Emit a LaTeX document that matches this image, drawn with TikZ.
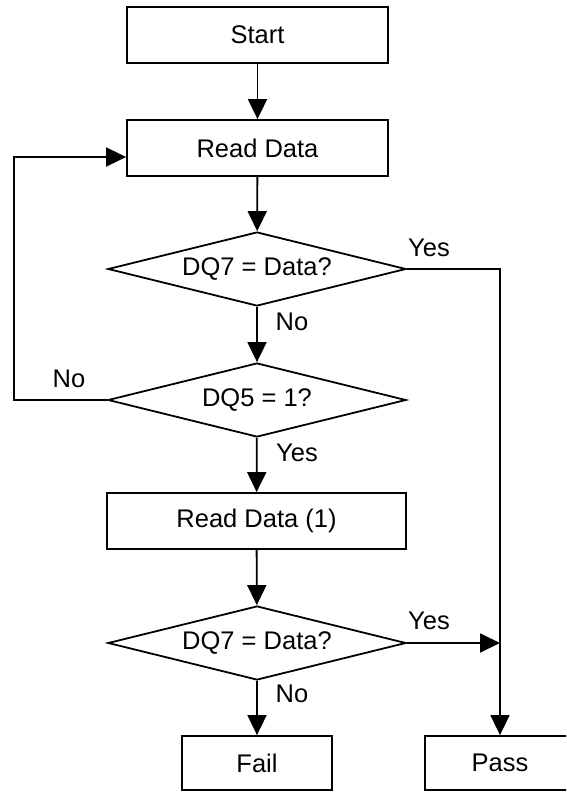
\documentclass[tikz,border=0pt]{standalone}
\usepackage{fontspec}
\setmainfont{Liberation Sans}
\usetikzlibrary{shapes.geometric,arrows.meta}
\begin{document}
\begin{tikzpicture}[x=1pt,y=-1pt,line width=1.8pt,
  txt/.style={font=\fontsize{25.5}{30}\selectfont},
  box/.style={draw,rectangle,inner sep=0pt,txt},
  dec/.style={draw,diamond,aspect=4,minimum width=298pt,minimum height=74pt,inner sep=0pt,txt},
  arr/.style={-{Triangle[length=20pt,width=19pt]}},
  lbl/.style={txt,inner sep=0pt}]
\useasboundingbox (0,0) rectangle (566,792);
\clip (0,0) rectangle (566,792);
\node[box,minimum width=261pt,minimum height=56pt] (start) at (257.5,35) {Start};
\node[box,minimum width=261pt,minimum height=56pt] (rd) at (257.5,148) {Read Data};
\node[dec] (d1) at (257,269) {DQ7 = Data?};
\node[dec] (d2) at (257,400) {DQ5 = 1?};
\node[box,minimum width=299pt,minimum height=56pt] (rd1) at (256.5,521) {Read Data (1)};
\node[dec] (d3) at (257,643) {DQ7 = Data?};
\node[box,minimum width=150pt,minimum height=54pt] (fail) at (257,763) {Fail};
\node[box,minimum width=150pt,minimum height=54pt] (pass) at (500,763) {Pass};
\coordinate (lp) at (14,0);
\coordinate (j) at (d3.east -| pass.north);
\draw[arr] (start) -- (rd);
\draw[arr] (rd) -- (d1);
\draw[arr] (d1) -- (d2);
\draw[arr] (d2) -- (rd1);
\draw[arr] (rd1) -- (d3);
\draw[arr] (d3) -- (fail);
\draw[arr] (d1.east) -| (pass.north);
\draw[arr] (d3.east) -- (j);
\draw[arr] (d2.west) -- (d2.west -| lp) |- ([yshift=-9pt]rd.west);
\node[lbl] (y1) at (429,248) {Yes};
\node[lbl] (n1) at (292,322) {No};
\node[lbl] (n2) at (69,379) {No};
\node[lbl] (y2) at (297,453) {Yes};
\node[lbl] (y3) at (429,621) {Yes};
\node[lbl] (n3) at (292,694) {No};
\end{tikzpicture}
\end{document}
